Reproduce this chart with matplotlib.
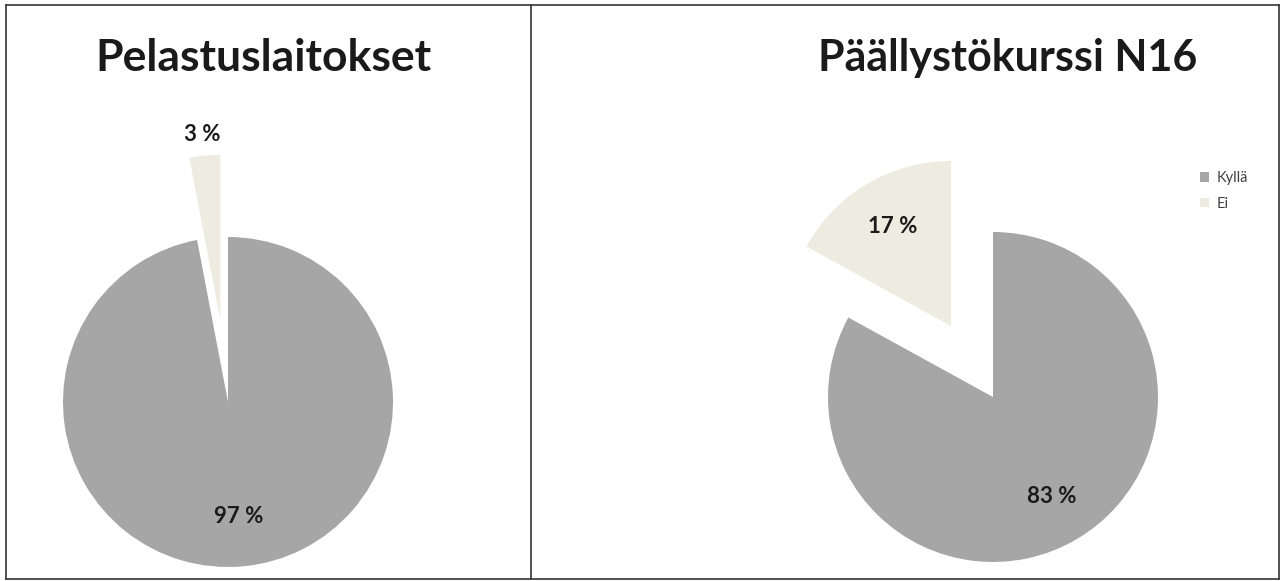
import numpy as np
import matplotlib
matplotlib.use("Agg")
import matplotlib.pyplot as plt
from matplotlib.lines import Line2D

# Data
labels = ["Kyllä", "Ei"]
titles = ["Pelastuslaitokset", "Päällystökurssi N16"]
values_left = [97, 3]
values_right = [83, 17]
colors = ["#A6A6A6", "#EEECE1"]

W, H = 1283, 581
plt.rcParams["font.family"] = ["Lato", "DejaVu Sans"]

fig = plt.figure(figsize=(W / 100, H / 100), dpi=100)
ax = fig.add_axes([0, 0, 1, 1])

R = 165

def draw_pie(vals, cx, cy):
    # explode is in data units here (pixels), so scale by radius
    wedges, texts, autotexts = ax.pie(
        vals, colors=colors, startangle=90, counterclock=False,
        explode=[0, 0.5 * R], radius=R, center=(cx, cy),
        autopct=lambda p: f"{p:.0f} %", pctdistance=0.7,
        textprops=dict(fontsize=16, fontweight="bold", color="#1a1a1a"),
        wedgeprops=dict(linewidth=0))
    # small slices get their label outside the wedge
    for w, t, v in zip(wedges, autotexts, vals):
        if v < 5:
            ang = np.deg2rad((w.theta1 + w.theta2) / 2)
            x0, y0 = w.center
            t.set_position((x0 + 1.13 * R * np.cos(ang),
                            y0 + 1.13 * R * np.sin(ang)))
    return wedges

draw_pie(values_left, 228, H - 402)
wedges = draw_pie(values_right, 993, H - 397)

ax.set_xlim(0, W)
ax.set_ylim(0, H)
ax.set_aspect("equal")
ax.axis("off")

fig.text(263 / W, 1 - 58 / H, titles[0], ha="center", va="center",
         fontsize=32, fontweight="bold", color="#1a1a1a")
fig.text(1008 / W, 1 - 58 / H, titles[1], ha="center", va="center",
         fontsize=31, fontweight="bold", color="#1a1a1a")

fig.legend(wedges, labels, loc="upper left",
           bbox_to_anchor=(1187 / W, 1 - 158 / H), frameon=False,
           fontsize=10.5, handlelength=0.6, handleheight=0.6,
           handletextpad=0.5, labelspacing=0.8, labelcolor="#404040")

# frame and divider
for xs, ys in [([6, 1279], [5, 5]), ([6, 1279], [579, 579]),
               ([6, 6], [5, 579]), ([1279, 1279], [5, 579]),
               ([531, 531], [5, 579])]:
    fig.add_artist(Line2D([x / W for x in xs], [1 - y / H for y in ys],
                          color="#333333", linewidth=1.2))

fig.savefig("out.png", dpi=100)
